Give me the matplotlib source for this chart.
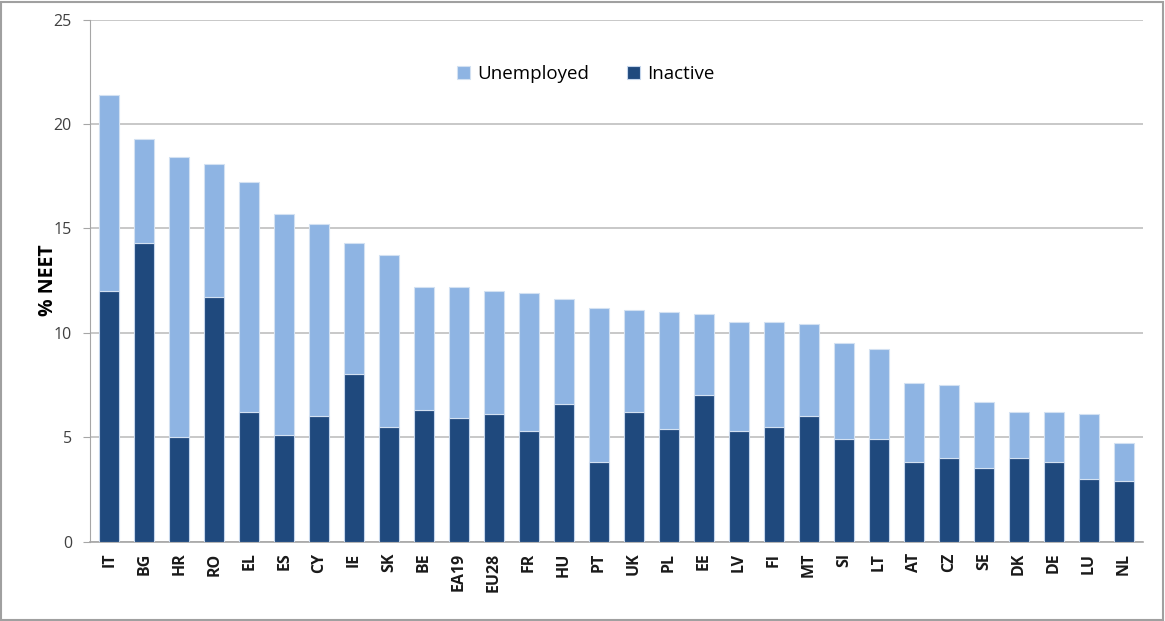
import numpy as np
import matplotlib
matplotlib.use('Agg')
import matplotlib.pyplot as plt
from matplotlib.patches import Rectangle

# ── Dados (% NEET) ───────────────────────────────────────────────────────────
paises = ['IT', 'BG', 'HR', 'RO', 'EL', 'ES', 'CY', 'IE', 'SK', 'BE',
          'EA19', 'EU28', 'FR', 'HU', 'PT', 'UK', 'PL', 'EE', 'LV', 'FI',
          'MT', 'SI', 'LT', 'AT', 'CZ', 'SE', 'DK', 'DE', 'LU', 'NL']
total = [21.4, 19.3, 18.4, 18.1, 17.2, 15.7, 15.2, 14.3, 13.7, 12.2,
         12.2, 12.0, 11.9, 11.6, 11.2, 11.1, 11.0, 10.9, 10.5, 10.5,
         10.4, 9.5, 9.2, 7.6, 7.5, 6.7, 6.2, 6.2, 6.1, 4.7]
inactive = [12.0, 14.3, 5.0, 11.7, 6.2, 5.1, 6.0, 8.0, 5.5, 6.3,
            5.9, 6.1, 5.3, 6.6, 3.8, 6.2, 5.4, 7.0, 5.3, 5.5,
            6.0, 4.9, 4.9, 3.8, 4.0, 3.5, 4.0, 3.8, 3.0, 2.9]

unemployed = np.array(total) - np.array(inactive)
x = np.arange(len(paises))

cor_clara = '#8EB4E3'
cor_escura = '#1F497D'
cor_grade = '#BFBFBF'

plt.rcParams['font.family'] = ['Open Sans', 'DejaVu Sans']

fig = plt.figure(figsize=(11.65, 6.21), dpi=100, facecolor='white')
ax = fig.add_axes([90/1165, 1 - 541.5/621, 1053/1165, 522/621])

b1 = ax.bar(x, inactive, width=0.56, color=cor_escura,
            edgecolor='#C5D6EC', linewidth=0.8, zorder=3)
b2 = ax.bar(x, unemployed, width=0.56, bottom=inactive, color=cor_clara,
            edgecolor='#D3E1F2', linewidth=0.8, zorder=3)

ax.set_xlim(-0.55, len(paises) - 0.45)
ax.set_ylim(0, 25)
ax.set_yticks(np.arange(0, 26, 5))
ax.yaxis.grid(True, color=cor_grade, linewidth=1.2, zorder=0)
ax.set_axisbelow(True)

for lado in ['top', 'right']:
    ax.spines[lado].set_visible(False)
ax.spines['left'].set_color('#A6A6A6')
ax.spines['bottom'].set_color('#A6A6A6')
ax.spines['bottom'].set_linewidth(1.2)

ax.set_xticks(x)
ax.set_xticklabels(paises, rotation=90, fontsize=11.5, fontweight='bold',
                   color='#1a1a1a')
ax.tick_params(axis='x', length=0, pad=8)
ax.tick_params(axis='y', length=5, color='#A6A6A6', labelsize=11.5,
               labelcolor='#404040', pad=8)

ax.set_ylabel('% NEET', fontsize=14, fontweight='bold', labelpad=-3)

ax.legend([b2, b1], ['Unemployed', 'Inactive'], loc='center',
          bbox_to_anchor=(0.471, 0.895), ncol=2, frameon=False,
          fontsize=13.5, handlelength=0.7, handleheight=0.7,
          handletextpad=0.4, columnspacing=2.0)

# moldura externa
fig.patches.append(Rectangle((0.001, 0.002), 0.997, 0.995,
                             transform=fig.transFigure, fill=False,
                             edgecolor='#A0A0A0', linewidth=1.5))

plt.savefig('out.png', dpi=100, facecolor='white')
plt.close()
